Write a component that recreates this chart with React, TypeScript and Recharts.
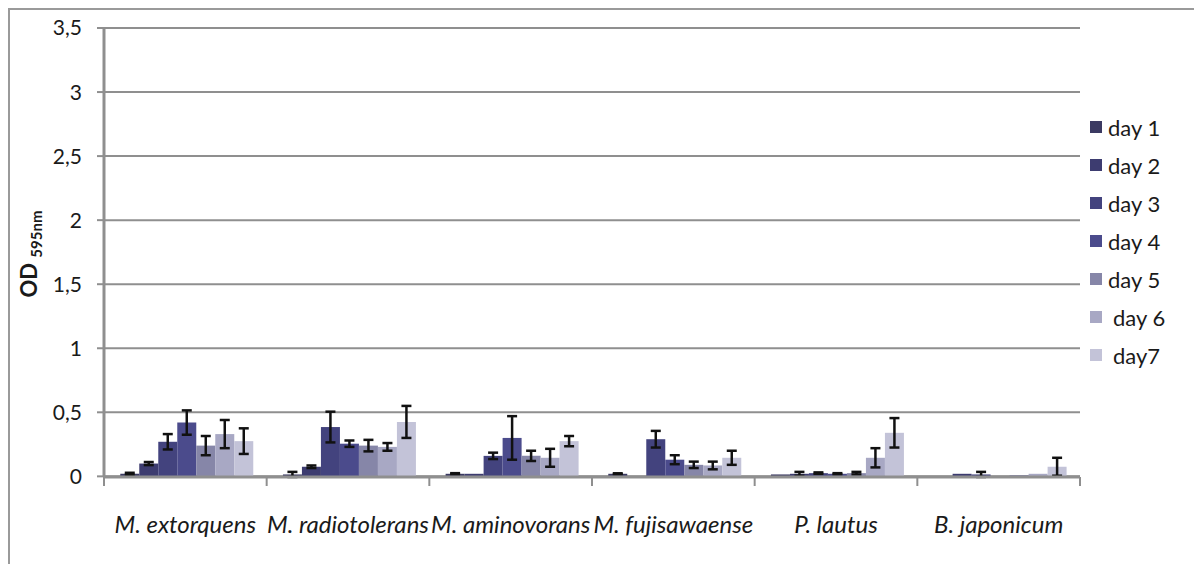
import React from 'react';
import { BarChart, Bar, XAxis, YAxis, CartesianGrid, ErrorBar } from 'recharts';

// strains on the x axis
const categories = ['M. extorquens', 'M. radiotolerans', 'M. aminovorans', 'M. fujisawaense', 'P. lautus', 'B. japonicum'];
const dayLabels = ['day 1', 'day 2', 'day 3', 'day 4', 'day 5', 'day 6', 'day7'];
const dayColors = ['#3b3a62', '#3d3c70', '#43437e', '#4b4b8c', '#8686a8', '#a8a8c4', '#c3c3d8'];

// OD 595nm per day (mean) and error (+/-)
const day1 = [0.02, 0.015, 0.02, 0.02, 0.015, 0];
const day1Err = [0.008, 0.02, 0.005, 0.004, 0, 0];
const day2 = [0.1, 0.075, 0.02, 0, 0.02, 0.02];
const day2Err = [0.012, 0.01, 0, 0, 0.015, 0];
const day3 = [0.27, 0.385, 0.16, 0.29, 0.025, 0.015];
const day3Err = [0.06, 0.12, 0.025, 0.065, 0.006, 0.02];
const day4 = [0.42, 0.255, 0.3, 0.13, 0.02, 0];
const day4Err = [0.095, 0.025, 0.17, 0.035, 0.005, 0];
const day5 = [0.24, 0.24, 0.16, 0.09, 0.025, 0.01];
const day5Err = [0.075, 0.045, 0.04, 0.025, 0.01, 0];
const day6 = [0.33, 0.23, 0.145, 0.085, 0.145, 0.02];
const day6Err = [0.11, 0.03, 0.07, 0.03, 0.075, 0];
const day7 = [0.275, 0.425, 0.275, 0.145, 0.34, 0.075];
const day7Err = [0.1, 0.125, 0.04, 0.055, 0.115, 0.07];

const yTicks = [0, 0.5, 1, 1.5, 2, 2.5, 3, 3.5];

const values = [day1, day2, day3, day4, day5, day6, day7];
const errors = [day1Err, day2Err, day3Err, day4Err, day5Err, day6Err, day7Err];

const data = categories.map((name, i) => {
  const row: { [key: string]: any } = { name };
  values.forEach((v, d) => {
    row[`d${d + 1}`] = v[i];
    row[`e${d + 1}`] = errors[d][i];
  });
  return row;
});

const WIDTH = 1184;
const HEIGHT = 554;
const X_HEIGHT = 30;
const MARGIN = { top: 18, right: 114, bottom: 87 - X_HEIGHT, left: 0 };
const Y_WIDTH = 94;
const BAND = (WIDTH - MARGIN.right - Y_WIDTH) / categories.length;
const FONT = 'Lato, "Open Sans", sans-serif';
const GRID = '#8f8f8f';
const TEXT = '#1a1a1a';

const CategoryTick = (props: any) => {
  const { x, y, payload, index } = props;
  const half = BAND / 2;
  return (
    <g>
      <line x1={x - half} y1={y} x2={x - half} y2={y + 9} stroke={GRID} strokeWidth={2} />
      {index === categories.length - 1 && (
        <line x1={x + half} y1={y} x2={x + half} y2={y + 9} stroke={GRID} strokeWidth={2} />
      )}
      <text x={x} y={y + 56} textAnchor="middle" fontStyle="italic" fontSize={24} fill={TEXT} fontFamily={FONT}>
        {payload.value}
      </text>
    </g>
  );
};

const App: React.FC = () => {
  return (
    <div
      style={{
        position: 'fixed',
        left: 8,
        top: 8,
        width: WIDTH + 2,
        height: HEIGHT + 2,
        borderLeft: '2px solid #9a9a9a',
        borderTop: '2px solid #9a9a9a',
        boxSizing: 'border-box',
        fontFamily: FONT,
        background: '#fff',
      }}
    >
      <BarChart width={WIDTH} height={HEIGHT} data={data} margin={MARGIN} barCategoryGap="10%" barGap={0}>
        <CartesianGrid vertical={false} stroke={GRID} strokeWidth={2} />
        <XAxis
          dataKey="name"
          height={X_HEIGHT}
          tickLine={false}
          tickSize={0}
          tickMargin={0}
          axisLine={{ stroke: GRID, strokeWidth: 3 }}
          tick={<CategoryTick />}
          interval={0}
        />
        <YAxis
          width={Y_WIDTH}
          domain={[0, 3.5]}
          ticks={yTicks}
          tickSize={7}
          tickMargin={15}
          tickLine={{ stroke: GRID, strokeWidth: 2 }}
          axisLine={{ stroke: GRID, strokeWidth: 3 }}
          tick={{ fontSize: 21, fill: TEXT, fontFamily: FONT }}
          tickFormatter={(v: number) => String(v).replace('.', ',')}
        />
        {dayLabels.map((label, d) => (
          <Bar key={label} dataKey={`d${d + 1}`} name={label} fill={dayColors[d]} isAnimationActive={false}>
            <ErrorBar dataKey={`e${d + 1}`} width={5} strokeWidth={2.5} stroke="#111" />
          </Bar>
        ))}
      </BarChart>
      <svg width={60} height={200} style={{ position: 'absolute', left: 0, top: 140 }}>
        <text x={27} y={104} transform="rotate(-90 27 104)" textAnchor="middle" fontFamily={FONT} fill={TEXT} fontWeight="bold">
          <tspan fontSize={22}>OD </tspan>
          <tspan fontSize={15} dy={5}>595nm</tspan>
        </text>
      </svg>
      <div style={{ position: 'absolute', left: 1080, top: 98 }}>
        {dayLabels.map((label, d) => (
          <div key={label} style={{ display: 'flex', alignItems: 'center', height: 38 }}>
            <span style={{ width: 12, height: 12, background: dayColors[d], display: 'inline-block' }} />
            <span style={{ fontSize: 22, color: TEXT, marginLeft: d >= 5 ? 11 : 6 }}>{label}</span>
          </div>
        ))}
      </div>
    </div>
  );
};

export default App;
